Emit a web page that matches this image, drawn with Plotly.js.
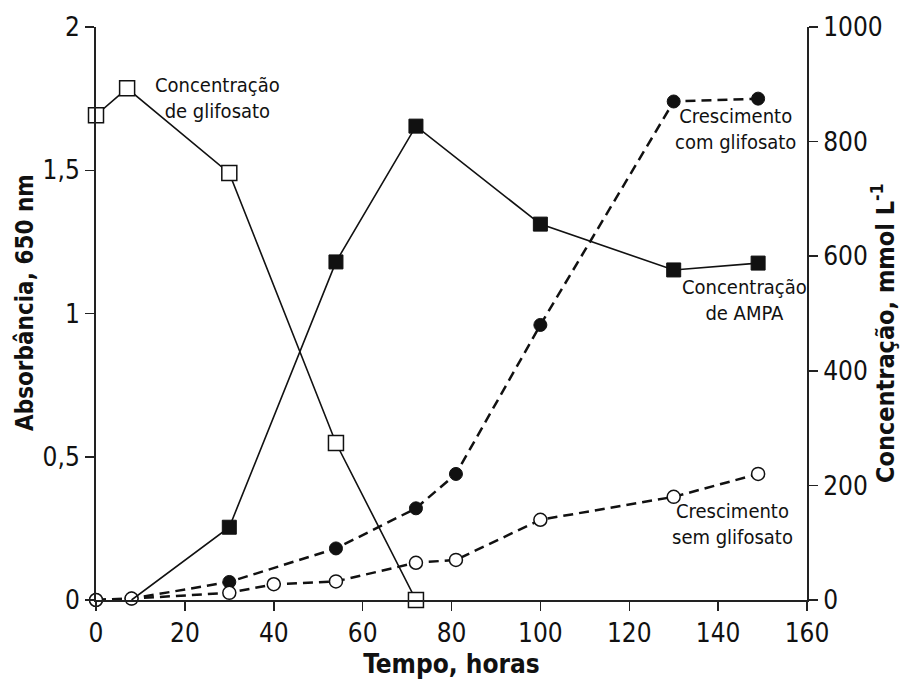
<!DOCTYPE html>
<html><head><meta charset="utf-8">
<script src="https://cdn.plot.ly/plotly-3.0.1.min.js"></script>
<style>html,body{margin:0;padding:0;background:#fff}</style>
</head><body><div id="chart" style="width:903px;height:682px"></div>
<script>
// Data
const glyTime = [0, 7, 30, 54, 72];
const glyConc = [846, 893, 745, 274, 0];
const ampaTime = [8, 30, 54, 72, 100, 130, 149];
const ampaConc = [0, 127, 590, 827, 656, 576, 588];
const growWithTime = [0, 8, 30, 54, 72, 81, 100, 130, 149];
const growWith = [0, 0.005, 0.063, 0.18, 0.32, 0.44, 0.96, 1.74, 1.75];
const growWithoutTime = [0, 8, 30, 40, 54, 72, 81, 100, 130, 149];
const growWithout = [0, 0.005, 0.025, 0.055, 0.065, 0.13, 0.14, 0.28, 0.36, 0.44];

const xTicks = [0, 20, 40, 60, 80, 100, 120, 140, 160];
const yLeftTicks = [0, 0.5, 1, 1.5, 2];
const yLeftText = ['0', '0,5', '1', '1,5', '2'];
const yRightTicks = [0, 200, 400, 600, 800, 1000];

const FONT = '"Liberation Sans Narrow", "DejaVu Sans Condensed", "Arial Narrow", sans-serif';

const traces = [
  {x: growWithTime, y: growWith, yaxis: 'y', mode: 'lines+markers', cliponaxis: false,
   line: {color: '#111', width: 2.5, dash: '10px,6px'},
   marker: {symbol: 'circle', size: 13, color: '#111', opacity: 1, line: {color: '#111', width: 1}}},
  {x: growWithoutTime, y: growWithout, yaxis: 'y', mode: 'lines+markers', cliponaxis: false,
   line: {color: '#111', width: 2.5, dash: '10px,6px'},
   marker: {symbol: 'circle', size: 13, color: '#fff', opacity: 1, line: {color: '#111', width: 1.5}}},
  {x: glyTime, y: glyConc, yaxis: 'y2', mode: 'lines+markers', cliponaxis: false,
   line: {color: '#111', width: 1.6},
   marker: {symbol: 'square', size: 15, color: '#fff', opacity: 1, line: {color: '#111', width: 1.5}}},
  {x: ampaTime, y: ampaConc, yaxis: 'y2', mode: 'lines+markers', cliponaxis: false,
   line: {color: '#111', width: 1.6},
   marker: {symbol: 'square', size: ampaTime.map((t, i) => i === 0 ? 0 : 14), color: '#111', opacity: 1, line: {color: '#111', width: 1}}}
];

const annFont = {family: FONT, size: 20, color: '#111'};
const titleFont = {family: FONT, size: 24, color: '#111'};
function px(x) { return (x - 96) / 711; }
function py(y) { return (600 - y) / 573; }
const layout = {
  width: 903, height: 682,
  margin: {l: 96, r: 96, t: 27, b: 82},
  paper_bgcolor: '#fff', plot_bgcolor: '#fff',
  showlegend: false,
  font: {family: FONT, color: '#111'},
  xaxis: {
    range: [0, 160], tickvals: xTicks, ticktext: xTicks.map(String),
    showline: true, linecolor: '#222', linewidth: 2, mirror: false,
    ticks: 'outside', ticklen: 9, tickwidth: 1.5, tickcolor: '#222',
    showgrid: false, zeroline: false,
    tickfont: {family: FONT, size: 26, color: '#111'},
    title: {text: '<b>Tempo, horas</b>', standoff: 8, font: {family: FONT, size: 26, color: '#111'}}
  },
  yaxis: {
    range: [0, 2], tickvals: yLeftTicks, ticktext: yLeftText,
    showline: true, linecolor: '#222', linewidth: 2,
    ticks: 'outside', ticklen: 9, tickwidth: 1.5, tickcolor: '#222',
    showgrid: false, zeroline: false,
    tickfont: {family: FONT, size: 26, color: '#111'}
  },
  yaxis2: {
    range: [0, 1000], tickvals: yRightTicks, ticktext: yRightTicks.map(String),
    overlaying: 'y', side: 'right', anchor: 'x',
    showline: true, linecolor: '#222', linewidth: 2,
    ticks: 'outside', ticklen: 9, tickwidth: 1.5, tickcolor: '#222',
    showgrid: false, zeroline: false,
    tickfont: {family: FONT, size: 26, color: '#111'}
  },
  annotations: [
    {xref: 'paper', yref: 'paper', x: px(25), y: py(303), xanchor: 'center', yanchor: 'middle', textangle: -90,
     text: '<b>Absorbância, 650 nm</b>', showarrow: false, font: titleFont},
    {xref: 'paper', yref: 'paper', x: px(883), y: py(333), xanchor: 'center', yanchor: 'middle', textangle: -90,
     text: '<b>Concentração, mmol L<sup>-1</sup></b>', showarrow: false, font: {family: FONT, size: 25, color: '#111'}},
    {xref: 'paper', yref: 'paper', x: px(217), y: py(98), xanchor: 'center', yanchor: 'middle', text: 'Concentração<br>de glifosato', showarrow: false, font: annFont, align: 'center'},
    {xref: 'paper', yref: 'paper', x: px(735), y: py(129), xanchor: 'center', yanchor: 'middle', text: 'Crescimento<br>com glifosato', showarrow: false, font: annFont, align: 'center'},
    {xref: 'paper', yref: 'paper', x: px(744), y: py(300), xanchor: 'center', yanchor: 'middle', text: 'Concentração<br>de AMPA', showarrow: false, font: annFont, align: 'center'},
    {xref: 'paper', yref: 'paper', x: px(732), y: py(524), xanchor: 'center', yanchor: 'middle', text: 'Crescimento<br>sem glifosato', showarrow: false, font: annFont, align: 'center'}
  ]
};
Plotly.newPlot('chart', traces, layout, {displayModeBar: false, staticPlot: true});
</script></body></html>
